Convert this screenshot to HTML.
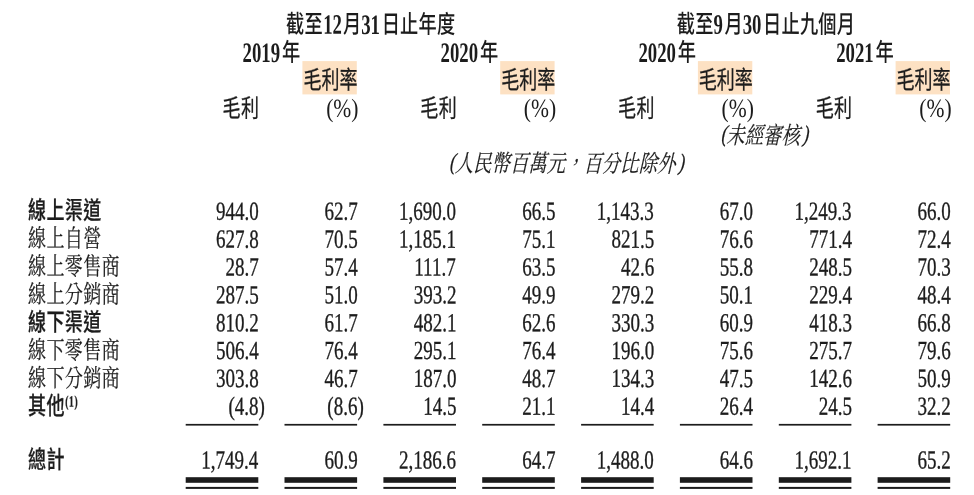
<!DOCTYPE html>
<html lang="zh-Hant">
<head>
<meta charset="utf-8">
<title>毛利及毛利率</title>
<style>
html,body{margin:0;padding:0;background:#fff;}
body{width:974px;height:495px;overflow:hidden;}
#pg{position:absolute;left:0;top:0;width:974px;height:495px;overflow:hidden;color:#1c1c1c;will-change:transform;}
.t{position:absolute;white-space:nowrap;line-height:1;font-family:"Liberation Serif","Noto Serif CJK SC",serif;}
.r{transform-origin:right top;}
.l{transform-origin:left top;}
.c{transform-origin:center top;text-align:center;width:600px;}
.num{-webkit-text-stroke:0.35px #1c1c1c;}
.ser{-webkit-text-stroke:0.2px #1c1c1c;}
.hei{font-family:"Liberation Serif","Noto Sans CJK TC","Noto Sans CJK SC",sans-serif;font-weight:500;}
.hei b{display:inline-block;letter-spacing:0;position:relative;top:0.7px;font-weight:700;font-size:28.2px;line-height:1;transform-origin:left top;}
.it i{display:inline-block;font-style:normal;transform:skewX(-16deg);}
.it u{text-decoration:none;position:relative;top:-2.2px;}
.sup{display:inline-block;font-family:"Liberation Serif",serif;font-weight:700;font-size:13px;position:relative;top:-9.2px;transform:scaleY(1.2);-webkit-text-stroke:0.3px #1c1c1c;letter-spacing:0.9px;margin-left:0.5px;}
</style>
</head>
<body>
<div id="pg">

<svg width="974" height="495" viewBox="0 0 974 495" style="position:absolute;left:0;top:0">
<rect x="302.4" y="61.1" width="54.4" height="33.3" fill="#fde1c3"/>
<rect x="500.2" y="61.1" width="54.4" height="33.3" fill="#fde1c3"/>
<rect x="697.9" y="61.1" width="54.4" height="33.3" fill="#fde1c3"/>
<rect x="895.6" y="61.1" width="54.4" height="33.3" fill="#fde1c3"/>
<rect x="185.7" y="423.9" width="72.6" height="1.7" fill="#1c1c1c"/>
<rect x="185.7" y="477.2" width="72.6" height="5.6" fill="#1c1c1c"/>
<rect x="185.7" y="486.9" width="72.6" height="2.0" fill="#1c1c1c"/>
<rect x="284.5" y="423.9" width="72.6" height="1.7" fill="#1c1c1c"/>
<rect x="284.5" y="477.2" width="72.6" height="5.6" fill="#1c1c1c"/>
<rect x="284.5" y="486.9" width="72.6" height="2.0" fill="#1c1c1c"/>
<rect x="383.4" y="423.9" width="72.6" height="1.7" fill="#1c1c1c"/>
<rect x="383.4" y="477.2" width="72.6" height="5.6" fill="#1c1c1c"/>
<rect x="383.4" y="486.9" width="72.6" height="2.0" fill="#1c1c1c"/>
<rect x="482.2" y="423.9" width="72.6" height="1.7" fill="#1c1c1c"/>
<rect x="482.2" y="477.2" width="72.6" height="5.6" fill="#1c1c1c"/>
<rect x="482.2" y="486.9" width="72.6" height="2.0" fill="#1c1c1c"/>
<rect x="581.1" y="423.9" width="72.6" height="1.7" fill="#1c1c1c"/>
<rect x="581.1" y="477.2" width="72.6" height="5.6" fill="#1c1c1c"/>
<rect x="581.1" y="486.9" width="72.6" height="2.0" fill="#1c1c1c"/>
<rect x="679.9" y="423.9" width="72.6" height="1.7" fill="#1c1c1c"/>
<rect x="679.9" y="477.2" width="72.6" height="5.6" fill="#1c1c1c"/>
<rect x="679.9" y="486.9" width="72.6" height="2.0" fill="#1c1c1c"/>
<rect x="778.8" y="423.9" width="72.6" height="1.7" fill="#1c1c1c"/>
<rect x="778.8" y="477.2" width="72.6" height="5.6" fill="#1c1c1c"/>
<rect x="778.8" y="486.9" width="72.6" height="2.0" fill="#1c1c1c"/>
<rect x="877.6" y="423.9" width="72.6" height="1.7" fill="#1c1c1c"/>
<rect x="877.6" y="477.2" width="72.6" height="5.6" fill="#1c1c1c"/>
<rect x="877.6" y="486.9" width="72.6" height="2.0" fill="#1c1c1c"/>
</svg>
<div class="t hei c" style="left:71px;top:10px;font-size:24.9px;letter-spacing:0.35px;transform:translate(-0.27px,-0.10px) scaleX(0.73) rotate(0.1deg);">截至<b style="transform:scaleX(0.9110);margin-right:-0.59px">12</b>月<b style="transform:scaleX(0.9110);margin-right:-0.59px">31</b>日止年度</div>
<div class="t hei c" style="left:466px;top:10px;font-size:24.9px;letter-spacing:0.35px;transform:translate(0.03px,-0.10px) scaleX(0.73) rotate(0.1deg);">截至<b style="transform:scaleX(0.9110);margin-right:0.66px">9</b>月<b style="transform:scaleX(0.9110);margin-right:-0.59px">30</b>日止九個月</div>
<div class="t hei c" style="left:-28px;top:38px;font-size:25.0px;letter-spacing:0.9px;transform:translate(-0.17px,0.10px) scaleX(0.73) rotate(0.1deg);"><b style="transform:scaleX(0.9110);margin-right:-2.69px">2019</b>年</div>
<div class="t hei c" style="left:170px;top:38px;font-size:25.0px;letter-spacing:0.9px;transform:translate(-0.17px,0.10px) scaleX(0.73) rotate(0.1deg);"><b style="transform:scaleX(0.9110);margin-right:-2.69px">2020</b>年</div>
<div class="t hei c" style="left:368px;top:38px;font-size:25.0px;letter-spacing:0.9px;transform:translate(-0.37px,0.10px) scaleX(0.73) rotate(0.1deg);"><b style="transform:scaleX(0.9110);margin-right:-2.69px">2020</b>年</div>
<div class="t hei c" style="left:565px;top:38px;font-size:25.0px;letter-spacing:0.9px;transform:translate(0.43px,0.10px) scaleX(0.73) rotate(0.1deg);"><b style="transform:scaleX(0.9110);margin-right:-2.69px">2021</b>年</div>
<div class="t hei r" style="right:617px;top:68px;font-size:25.0px;transform:translate(0.45px,-0.20px) scaleX(0.72) rotate(0.1deg);font-weight:400;-webkit-text-stroke:0.3px #1c1c1c;">毛利率</div>
<div class="t pct r" style="right:615px;top:96px;font-size:26.0px;transform:translate(-0.45px,-0.30px) scaleX(0.83) rotate(0.1deg);">(%)</div>
<div class="t hei r" style="right:419px;top:68px;font-size:25.0px;transform:translate(0.15px,-0.20px) scaleX(0.72) rotate(0.1deg);font-weight:400;-webkit-text-stroke:0.3px #1c1c1c;">毛利率</div>
<div class="t pct r" style="right:418px;top:96px;font-size:26.0px;transform:translate(0.25px,-0.30px) scaleX(0.83) rotate(0.1deg);">(%)</div>
<div class="t hei r" style="right:221px;top:68px;font-size:25.0px;transform:translate(-0.15px,-0.20px) scaleX(0.72) rotate(0.1deg);font-weight:400;-webkit-text-stroke:0.3px #1c1c1c;">毛利率</div>
<div class="t pct r" style="right:220px;top:96px;font-size:26.0px;transform:translate(-0.05px,-0.30px) scaleX(0.83) rotate(0.1deg);">(%)</div>
<div class="t hei r" style="right:23px;top:68px;font-size:25.0px;transform:translate(-0.45px,-0.20px) scaleX(0.72) rotate(0.1deg);font-weight:400;-webkit-text-stroke:0.3px #1c1c1c;">毛利率</div>
<div class="t pct r" style="right:22px;top:96px;font-size:26.0px;transform:translate(-0.35px,-0.30px) scaleX(0.83) rotate(0.1deg);">(%)</div>
<div class="t hei r" style="right:715px;top:96px;font-size:25.0px;letter-spacing:0.5px;transform:translate(0.36px,0.00px) scaleX(0.72) rotate(0.1deg);font-weight:400;-webkit-text-stroke:0.3px #1c1c1c;">毛利</div>
<div class="t hei r" style="right:517px;top:96px;font-size:25.0px;letter-spacing:0.5px;transform:translate(0.06px,0.00px) scaleX(0.72) rotate(0.1deg);font-weight:400;-webkit-text-stroke:0.3px #1c1c1c;">毛利</div>
<div class="t hei r" style="right:319px;top:96px;font-size:25.0px;letter-spacing:0.5px;transform:translate(-0.24px,0.00px) scaleX(0.72) rotate(0.1deg);font-weight:400;-webkit-text-stroke:0.3px #1c1c1c;">毛利</div>
<div class="t hei r" style="right:122px;top:96px;font-size:25.0px;letter-spacing:0.5px;transform:translate(0.46px,0.00px) scaleX(0.72) rotate(0.1deg);font-weight:400;-webkit-text-stroke:0.3px #1c1c1c;">毛利</div>
<div class="t ser it c" style="left:466px;top:125px;font-size:23.7px;letter-spacing:0.2px;transform:translate(-0.42px,-0.30px) scaleX(0.77) rotate(0.1deg);"><i><u>(</u>未經審核<u style="margin-left:2.3px">)</u></i></div>
<div class="t ser it c" style="left:268px;top:153px;font-size:23.7px;letter-spacing:0.2px;transform:translate(-0.12px,-0.30px) scaleX(0.77) rotate(0.1deg);"><i><u>(</u>人民幣百萬元，百分比除外<u style="margin-left:2.3px">)</u></i></div>
<div class="t hei l" style="left:28px;top:199px;font-size:24.7px;letter-spacing:0.5px;transform:translate(0.10px,-0.15px) scaleX(0.73) rotate(0.1deg);-webkit-text-stroke:0.25px #1c1c1c;">線上渠道</div>
<div class="t num r" style="right:716px;top:199px;font-size:26.0px;transform:translate(0.40px,-0.15px) scaleX(0.731) rotate(0.1deg);">944.0</div>
<div class="t num r" style="right:617px;top:199px;font-size:26.0px;transform:translate(0.25px,-0.15px) scaleX(0.731) rotate(0.1deg);">62.7</div>
<div class="t num r" style="right:518px;top:199px;font-size:26.0px;transform:translate(0.10px,-0.15px) scaleX(0.731) rotate(0.1deg);">1,690.0</div>
<div class="t num r" style="right:419px;top:199px;font-size:26.0px;transform:translate(-0.05px,-0.15px) scaleX(0.731) rotate(0.1deg);">66.5</div>
<div class="t num r" style="right:320px;top:199px;font-size:26.0px;transform:translate(-0.20px,-0.15px) scaleX(0.731) rotate(0.1deg);">1,143.3</div>
<div class="t num r" style="right:221px;top:199px;font-size:26.0px;transform:translate(-0.35px,-0.15px) scaleX(0.731) rotate(0.1deg);">67.0</div>
<div class="t num r" style="right:122px;top:199px;font-size:26.0px;transform:translate(-0.50px,-0.15px) scaleX(0.731) rotate(0.1deg);">1,249.3</div>
<div class="t num r" style="right:24px;top:199px;font-size:26.0px;transform:translate(0.35px,-0.15px) scaleX(0.731) rotate(0.1deg);">66.0</div>
<div class="t ser l" style="left:28px;top:227px;font-size:24.7px;letter-spacing:0.5px;transform:translate(0.10px,-0.20px) scaleX(0.73) rotate(0.1deg);">線上自營</div>
<div class="t num r" style="right:716px;top:227px;font-size:26.0px;transform:translate(0.40px,-0.30px) scaleX(0.731) rotate(0.1deg);">627.8</div>
<div class="t num r" style="right:617px;top:227px;font-size:26.0px;transform:translate(0.25px,-0.30px) scaleX(0.731) rotate(0.1deg);">70.5</div>
<div class="t num r" style="right:518px;top:227px;font-size:26.0px;transform:translate(0.10px,-0.30px) scaleX(0.731) rotate(0.1deg);">1,185.1</div>
<div class="t num r" style="right:419px;top:227px;font-size:26.0px;transform:translate(-0.05px,-0.30px) scaleX(0.731) rotate(0.1deg);">75.1</div>
<div class="t num r" style="right:320px;top:227px;font-size:26.0px;transform:translate(-0.20px,-0.30px) scaleX(0.731) rotate(0.1deg);">821.5</div>
<div class="t num r" style="right:221px;top:227px;font-size:26.0px;transform:translate(-0.35px,-0.30px) scaleX(0.731) rotate(0.1deg);">76.6</div>
<div class="t num r" style="right:122px;top:227px;font-size:26.0px;transform:translate(-0.50px,-0.30px) scaleX(0.731) rotate(0.1deg);">771.4</div>
<div class="t num r" style="right:24px;top:227px;font-size:26.0px;transform:translate(0.35px,-0.30px) scaleX(0.731) rotate(0.1deg);">72.4</div>
<div class="t ser l" style="left:28px;top:255px;font-size:24.7px;letter-spacing:0.5px;transform:translate(0.10px,-0.25px) scaleX(0.73) rotate(0.1deg);">線上零售商</div>
<div class="t num r" style="right:716px;top:255px;font-size:26.0px;transform:translate(0.40px,-0.45px) scaleX(0.731) rotate(0.1deg);">28.7</div>
<div class="t num r" style="right:617px;top:255px;font-size:26.0px;transform:translate(0.25px,-0.45px) scaleX(0.731) rotate(0.1deg);">57.4</div>
<div class="t num r" style="right:518px;top:255px;font-size:26.0px;transform:translate(0.10px,-0.45px) scaleX(0.731) rotate(0.1deg);">111.7</div>
<div class="t num r" style="right:419px;top:255px;font-size:26.0px;transform:translate(-0.05px,-0.45px) scaleX(0.731) rotate(0.1deg);">63.5</div>
<div class="t num r" style="right:320px;top:255px;font-size:26.0px;transform:translate(-0.20px,-0.45px) scaleX(0.731) rotate(0.1deg);">42.6</div>
<div class="t num r" style="right:221px;top:255px;font-size:26.0px;transform:translate(-0.35px,-0.45px) scaleX(0.731) rotate(0.1deg);">55.8</div>
<div class="t num r" style="right:122px;top:255px;font-size:26.0px;transform:translate(-0.50px,-0.45px) scaleX(0.731) rotate(0.1deg);">248.5</div>
<div class="t num r" style="right:24px;top:255px;font-size:26.0px;transform:translate(0.35px,-0.45px) scaleX(0.731) rotate(0.1deg);">70.3</div>
<div class="t ser l" style="left:28px;top:283px;font-size:24.7px;letter-spacing:0.5px;transform:translate(0.10px,-0.30px) scaleX(0.73) rotate(0.1deg);">線上分銷商</div>
<div class="t num r" style="right:716px;top:282px;font-size:26.0px;transform:translate(0.40px,0.40px) scaleX(0.731) rotate(0.1deg);">287.5</div>
<div class="t num r" style="right:617px;top:282px;font-size:26.0px;transform:translate(0.25px,0.40px) scaleX(0.731) rotate(0.1deg);">51.0</div>
<div class="t num r" style="right:518px;top:282px;font-size:26.0px;transform:translate(0.10px,0.40px) scaleX(0.731) rotate(0.1deg);">393.2</div>
<div class="t num r" style="right:419px;top:282px;font-size:26.0px;transform:translate(-0.05px,0.40px) scaleX(0.731) rotate(0.1deg);">49.9</div>
<div class="t num r" style="right:320px;top:282px;font-size:26.0px;transform:translate(-0.20px,0.40px) scaleX(0.731) rotate(0.1deg);">279.2</div>
<div class="t num r" style="right:221px;top:282px;font-size:26.0px;transform:translate(-0.35px,0.40px) scaleX(0.731) rotate(0.1deg);">50.1</div>
<div class="t num r" style="right:122px;top:282px;font-size:26.0px;transform:translate(-0.50px,0.40px) scaleX(0.731) rotate(0.1deg);">229.4</div>
<div class="t num r" style="right:24px;top:282px;font-size:26.0px;transform:translate(0.35px,0.40px) scaleX(0.731) rotate(0.1deg);">48.4</div>
<div class="t hei l" style="left:28px;top:311px;font-size:24.7px;letter-spacing:0.5px;transform:translate(0.10px,-0.35px) scaleX(0.73) rotate(0.1deg);-webkit-text-stroke:0.25px #1c1c1c;">線下渠道</div>
<div class="t num r" style="right:716px;top:310px;font-size:26.0px;transform:translate(0.40px,0.25px) scaleX(0.731) rotate(0.1deg);">810.2</div>
<div class="t num r" style="right:617px;top:310px;font-size:26.0px;transform:translate(0.25px,0.25px) scaleX(0.731) rotate(0.1deg);">61.7</div>
<div class="t num r" style="right:518px;top:310px;font-size:26.0px;transform:translate(0.10px,0.25px) scaleX(0.731) rotate(0.1deg);">482.1</div>
<div class="t num r" style="right:419px;top:310px;font-size:26.0px;transform:translate(-0.05px,0.25px) scaleX(0.731) rotate(0.1deg);">62.6</div>
<div class="t num r" style="right:320px;top:310px;font-size:26.0px;transform:translate(-0.20px,0.25px) scaleX(0.731) rotate(0.1deg);">330.3</div>
<div class="t num r" style="right:221px;top:310px;font-size:26.0px;transform:translate(-0.35px,0.25px) scaleX(0.731) rotate(0.1deg);">60.9</div>
<div class="t num r" style="right:122px;top:310px;font-size:26.0px;transform:translate(-0.50px,0.25px) scaleX(0.731) rotate(0.1deg);">418.3</div>
<div class="t num r" style="right:24px;top:310px;font-size:26.0px;transform:translate(0.35px,0.25px) scaleX(0.731) rotate(0.1deg);">66.8</div>
<div class="t ser l" style="left:28px;top:339px;font-size:24.7px;letter-spacing:0.5px;transform:translate(0.10px,-0.40px) scaleX(0.73) rotate(0.1deg);">線下零售商</div>
<div class="t num r" style="right:716px;top:338px;font-size:26.0px;transform:translate(0.40px,0.10px) scaleX(0.731) rotate(0.1deg);">506.4</div>
<div class="t num r" style="right:617px;top:338px;font-size:26.0px;transform:translate(0.25px,0.10px) scaleX(0.731) rotate(0.1deg);">76.4</div>
<div class="t num r" style="right:518px;top:338px;font-size:26.0px;transform:translate(0.10px,0.10px) scaleX(0.731) rotate(0.1deg);">295.1</div>
<div class="t num r" style="right:419px;top:338px;font-size:26.0px;transform:translate(-0.05px,0.10px) scaleX(0.731) rotate(0.1deg);">76.4</div>
<div class="t num r" style="right:320px;top:338px;font-size:26.0px;transform:translate(-0.20px,0.10px) scaleX(0.731) rotate(0.1deg);">196.0</div>
<div class="t num r" style="right:221px;top:338px;font-size:26.0px;transform:translate(-0.35px,0.10px) scaleX(0.731) rotate(0.1deg);">75.6</div>
<div class="t num r" style="right:122px;top:338px;font-size:26.0px;transform:translate(-0.50px,0.10px) scaleX(0.731) rotate(0.1deg);">275.7</div>
<div class="t num r" style="right:24px;top:338px;font-size:26.0px;transform:translate(0.35px,0.10px) scaleX(0.731) rotate(0.1deg);">79.6</div>
<div class="t ser l" style="left:28px;top:367px;font-size:24.7px;letter-spacing:0.5px;transform:translate(0.10px,-0.45px) scaleX(0.73) rotate(0.1deg);">線下分銷商</div>
<div class="t num r" style="right:716px;top:366px;font-size:26.0px;transform:translate(0.40px,-0.05px) scaleX(0.731) rotate(0.1deg);">303.8</div>
<div class="t num r" style="right:617px;top:366px;font-size:26.0px;transform:translate(0.25px,-0.05px) scaleX(0.731) rotate(0.1deg);">46.7</div>
<div class="t num r" style="right:518px;top:366px;font-size:26.0px;transform:translate(0.10px,-0.05px) scaleX(0.731) rotate(0.1deg);">187.0</div>
<div class="t num r" style="right:419px;top:366px;font-size:26.0px;transform:translate(-0.05px,-0.05px) scaleX(0.731) rotate(0.1deg);">48.7</div>
<div class="t num r" style="right:320px;top:366px;font-size:26.0px;transform:translate(-0.20px,-0.05px) scaleX(0.731) rotate(0.1deg);">134.3</div>
<div class="t num r" style="right:221px;top:366px;font-size:26.0px;transform:translate(-0.35px,-0.05px) scaleX(0.731) rotate(0.1deg);">47.5</div>
<div class="t num r" style="right:122px;top:366px;font-size:26.0px;transform:translate(-0.50px,-0.05px) scaleX(0.731) rotate(0.1deg);">142.6</div>
<div class="t num r" style="right:24px;top:366px;font-size:26.0px;transform:translate(0.35px,-0.05px) scaleX(0.731) rotate(0.1deg);">50.9</div>
<div class="t hei l" style="left:28px;top:394px;font-size:24.7px;letter-spacing:0.5px;transform:translate(0.10px,0.50px) scaleX(0.73) rotate(0.1deg);-webkit-text-stroke:0.25px #1c1c1c;">其他<span class="sup">(1)</span></div>
<div class="t num r" style="right:709px;top:394px;font-size:26.0px;transform:translate(0.10px,-0.20px) scaleX(0.731) rotate(0.1deg);">(4.8)</div>
<div class="t num r" style="right:610px;top:394px;font-size:26.0px;transform:translate(-0.05px,-0.20px) scaleX(0.731) rotate(0.1deg);">(8.6)</div>
<div class="t num r" style="right:518px;top:394px;font-size:26.0px;transform:translate(0.10px,-0.20px) scaleX(0.731) rotate(0.1deg);">14.5</div>
<div class="t num r" style="right:419px;top:394px;font-size:26.0px;transform:translate(-0.05px,-0.20px) scaleX(0.731) rotate(0.1deg);">21.1</div>
<div class="t num r" style="right:320px;top:394px;font-size:26.0px;transform:translate(-0.20px,-0.20px) scaleX(0.731) rotate(0.1deg);">14.4</div>
<div class="t num r" style="right:221px;top:394px;font-size:26.0px;transform:translate(-0.35px,-0.20px) scaleX(0.731) rotate(0.1deg);">26.4</div>
<div class="t num r" style="right:122px;top:394px;font-size:26.0px;transform:translate(-0.50px,-0.20px) scaleX(0.731) rotate(0.1deg);">24.5</div>
<div class="t num r" style="right:24px;top:394px;font-size:26.0px;transform:translate(0.35px,-0.20px) scaleX(0.731) rotate(0.1deg);">32.2</div>
<div class="t hei l" style="left:28px;top:448px;font-size:24.7px;letter-spacing:0.5px;transform:translate(0.10px,0.20px) scaleX(0.73) rotate(0.1deg);-webkit-text-stroke:0.25px #1c1c1c;">總計</div>
<div class="t num r" style="right:716px;top:448px;font-size:26.0px;transform:translate(0.40px,-0.40px) scaleX(0.731) rotate(0.1deg);">1,749.4</div>
<div class="t num r" style="right:617px;top:448px;font-size:26.0px;transform:translate(0.25px,-0.40px) scaleX(0.731) rotate(0.1deg);">60.9</div>
<div class="t num r" style="right:518px;top:448px;font-size:26.0px;transform:translate(0.10px,-0.40px) scaleX(0.731) rotate(0.1deg);">2,186.6</div>
<div class="t num r" style="right:419px;top:448px;font-size:26.0px;transform:translate(-0.05px,-0.40px) scaleX(0.731) rotate(0.1deg);">64.7</div>
<div class="t num r" style="right:320px;top:448px;font-size:26.0px;transform:translate(-0.20px,-0.40px) scaleX(0.731) rotate(0.1deg);">1,488.0</div>
<div class="t num r" style="right:221px;top:448px;font-size:26.0px;transform:translate(-0.35px,-0.40px) scaleX(0.731) rotate(0.1deg);">64.6</div>
<div class="t num r" style="right:122px;top:448px;font-size:26.0px;transform:translate(-0.50px,-0.40px) scaleX(0.731) rotate(0.1deg);">1,692.1</div>
<div class="t num r" style="right:24px;top:448px;font-size:26.0px;transform:translate(0.35px,-0.40px) scaleX(0.731) rotate(0.1deg);">65.2</div>
</div>
</body>
</html>
